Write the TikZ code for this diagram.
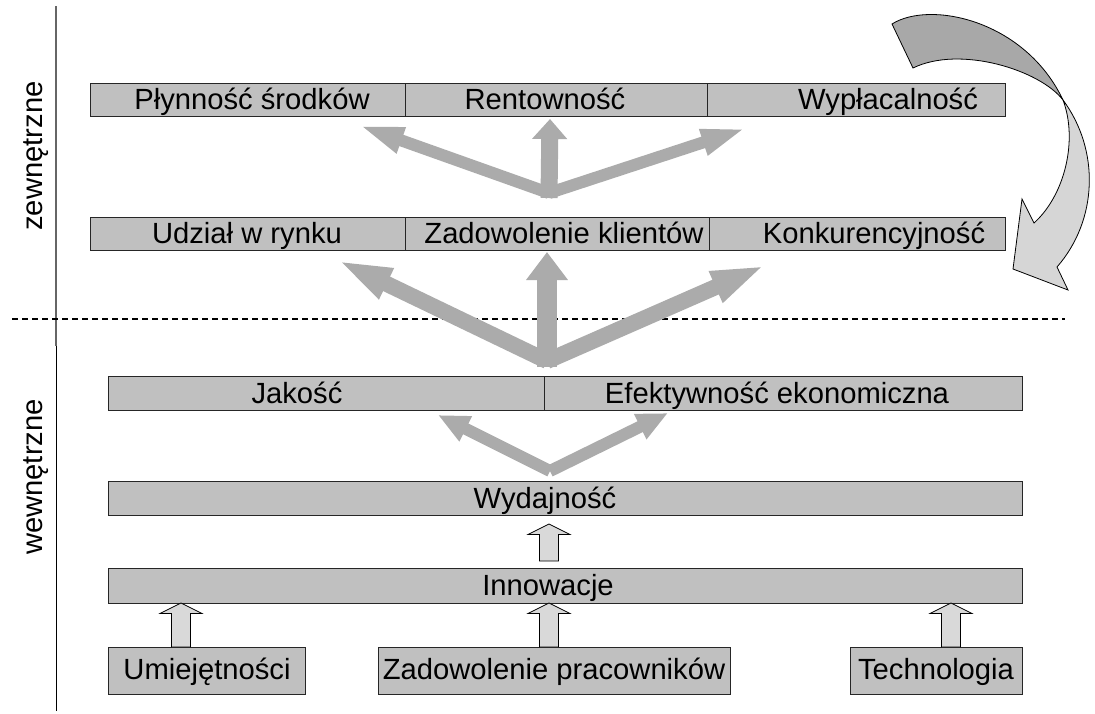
\documentclass[tikz,border=0pt]{standalone}
\usepackage{fontspec}
\setmainfont{Liberation Sans}
\usetikzlibrary{arrows.meta}
\definecolor{barfill}{HTML}{C0C0C0}
\definecolor{solidarrow}{HTML}{ABABAB}
\definecolor{hollowfill}{HTML}{D9D9D9}
\definecolor{curvedark}{HTML}{A8A8A8}
\definecolor{curvelight}{HTML}{D6D6D6}
\begin{document}
\begin{tikzpicture}[x=1pt,y=-1pt,
  seg/.style={draw=black!85, line width=1pt, fill=barfill, rectangle, inner sep=0pt, outer sep=0pt},
  lbl/.style={font=\fontsize{29.2}{34}\selectfont, anchor=base, inner sep=0pt},
  solidA/.style={draw=solidarrow, line width=#1},
  hollowstyle/.style={draw=black, line width=0.8pt, fill=hollowfill, line join=miter},
  harrow/.pic={\draw[hollowstyle] (0,0) -- (21,10.5) -- (9.5,10.5) -- (9.5,#1) -- (-9.5,#1) -- (-9.5,10.5) -- (-21,10.5) -- cycle;},
  curvestyle/.style={draw=black, line width=0.8pt}
]
\useasboundingbox (0,0) rectangle (1095,713);
\fill[white] (0,0) rectangle (1095,713);

% axis and separator
\coordinate (vtop) at (56,6);
\coordinate (vmid) at (56,346);
\coordinate (vbot) at (56,711);
\draw[black!60, line width=1.6pt] (vtop) -- (vmid);
\draw[black, line width=1pt] (vmid) -- (vbot);
\coordinate (dl) at (12,319);
\coordinate (dr) at (1065,319);
\draw[black, line width=1.3pt, dash pattern=on 6pt off 4pt] (dl) -- (dr);

\node[lbl, rotate=90] (zew) at (42,156) {zewnętrzne};
\node[lbl, rotate=90] (wew) at (42,477) {wewnętrzne};

% row 1
\node[seg, minimum width=315pt, minimum height=33pt] (r1a) at (247.5,99.5) {};
\node[seg, minimum width=302pt, minimum height=33pt] (r1b) at (556,99.5) {};
\node[seg, minimum width=298pt, minimum height=33pt] (r1c) at (856,99.5) {};
\node[lbl] (t1a) at (252,109) {Płynność środków};
\node[lbl] (t1b) at (545,109) {Rentowność};
\node[lbl] (t1c) at (888,109) {Wypłacalność};

% row 2
\node[seg, minimum width=315pt, minimum height=33pt] (r2a) at (247.5,233.5) {};
\node[seg, minimum width=304pt, minimum height=33pt] (r2b) at (557,233.5) {};
\node[seg, minimum width=296pt, minimum height=33pt] (r2c) at (857,233.5) {};
\node[lbl] (t2a) at (247,243) {Udział w rynku};
\node[lbl] (t2b) at (564,243) {Zadowolenie klientów};
\node[lbl] (t2c) at (874,243) {Konkurencyjność};

% row 3
\node[seg, minimum width=436pt, minimum height=34pt] (r3a) at (326,393) {};
\node[seg, minimum width=478pt, minimum height=34pt] (r3b) at (783,393) {};
\node[lbl] (t3a) at (297,403) {Jakość};
\node[lbl] (t3b) at (777,403) {Efektywność ekonomiczna};

% Wydajnosc, Innowacje
\node[seg, minimum width=914pt, minimum height=34pt] (wyd) at (565,498) {};
\node[lbl] (twyd) at (545,508) {Wydajność};
\node[seg, minimum width=914pt, minimum height=35pt] (inn) at (565,585.5) {};
\node[lbl] (tinn) at (548,595) {Innowacje};

% bottom boxes
\node[seg, minimum width=197pt, minimum height=47pt] (umi) at (206.5,670.5) {};
\node[seg, minimum width=352pt, minimum height=47pt] (zpr) at (554,670.5) {};
\node[seg, minimum width=172pt, minimum height=47pt] (tec) at (936,670.5) {};
\node[lbl] (tumi) at (207,679) {Umiejętności};
\node[lbl] (tzpr) at (554,679) {Zadowolenie pracowników};
\node[lbl] (ttec) at (936,679) {Technologia};

% hollow arrows
\coordinate (h1) at (181,603);
\coordinate (h2) at (549,603);
\coordinate (h3) at (951,603);
\coordinate (h4) at (549,524);
\pic at (h1) {harrow=44};
\pic at (h2) {harrow=44};
\pic at (h3) {harrow=44};
\pic at (h4) {harrow=37};

% solid arrows group 3 (to Jakosc / Efektywnosc)
\coordinate (b3) at (550,471);
\coordinate (b3l) at (438,415);
\coordinate (b3r) at (668,413);
\draw[solidA=12pt, -{Triangle[length=31pt, width=26pt]}] (b3) -- (b3l);
\draw[solidA=12pt, -{Triangle[length=31pt, width=26pt]}] (b3) -- (b3r);

% solid arrows group 2
\coordinate (b2) at (547,361);
\coordinate (b2m) at (547,367);
\coordinate (b2l) at (337,260);
\coordinate (b2t) at (547,252);
\coordinate (b2r) at (766,265);
\draw[solidA=16pt, -{Triangle[length=55pt, width=30pt]}] (b2) -- (b2l);
\draw[solidA=16pt, -{Triangle[length=55pt, width=30pt]}] (b2) -- (b2r);
\draw[solidA=20pt, -{Triangle[length=28pt, width=40pt]}] (b2m) -- (b2t);

% solid arrows group 1
\coordinate (b1) at (549,193);
\coordinate (b1m) at (549,198);
\coordinate (b1l) at (358,125);
\coordinate (b1t) at (550,119);
\coordinate (b1r) at (747,128);
\draw[solidA=12pt, -{Triangle[length=46pt, width=24pt]}] (b1) -- (b1l);
\draw[solidA=12pt, -{Triangle[length=46pt, width=24pt]}] (b1) -- (b1r);
\draw[solidA=17pt, -{Triangle[length=20pt, width=34pt]}] (b1m) -- (b1t);

% curved arrow
\coordinate (ca) at (892,24);
\coordinate (cb) at (1063,100);
\coordinate (cc) at (913,68);
\coordinate (cd) at (1057,267);
\coordinate (ce) at (1068,290);
\coordinate (cf) at (1013,269);
\coordinate (cg) at (1022,199);
\coordinate (ch) at (1034,223);
\draw[curvestyle, fill=curvelight] (cb) .. controls (1100,150) and (1098,220) .. (cd) -- (ce) -- (cf) -- (cg) -- (ch) .. controls (1065,195) and (1078,140) .. (cb) -- cycle;
\draw[curvestyle, fill=curvedark] (ca) .. controls (930,0) and (1025,20) .. (cb) .. controls (1040,70) and (960,45) .. (cc) -- cycle;
\end{tikzpicture}
\end{document}
